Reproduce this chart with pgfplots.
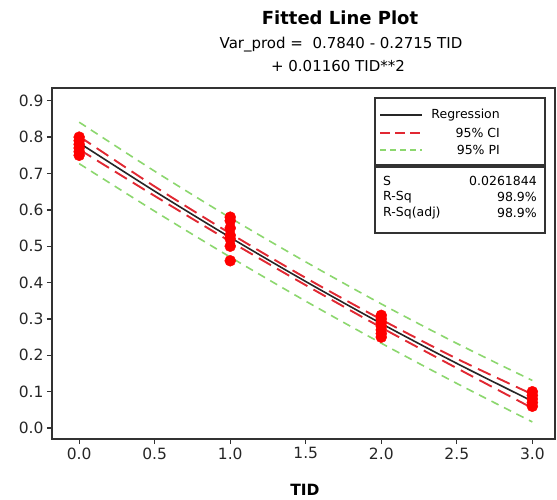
\documentclass[border=0pt]{standalone}
\usepackage{pgfplots}
\pgfplotsset{compat=1.18}
\usepackage{fontspec}
\setmainfont{DejaVu Sans}

\definecolor{ciRed}{RGB}{225,40,50}
\definecolor{piGreen}{RGB}{140,215,110}
\definecolor{axisGray}{RGB}{50,50,50}

\begin{document}
\begin{tikzpicture}
\begin{axis}[
    at={(0,0)}, anchor=south west,
    scale only axis,
    width=503pt, height=351pt,
    xmin=-0.18, xmax=3.15,
    ymin=-0.03, ymax=0.935,
    xtick={0,0.5,1,1.5,2,2.5,3},
    ytick={0,0.1,0.2,0.3,0.4,0.5,0.6,0.7,0.8,0.9},
    tick pos=left, tick align=outside,
    major tick length=5pt,
    axis line style={axisGray, line width=1.3pt},
    every tick/.style={axisGray, line width=1.3pt},
    /pgf/number format/assume math mode=true,
    /pgf/number format/.cd, fixed, fixed zerofill, precision=1, /pgfplots/.cd,
    tick label style={font=\fontsize{15.5}{18}\selectfont, text=black!85},
    clip=false,
]
% prediction interval
\addplot[piGreen, line width=1.6pt, dash pattern=on 8pt off 6pt, smooth] coordinates {
    (0,0.841)(0.5,0.7062)(1,0.5781)(1.5,0.4569)(2,0.3414)(2.5,0.2328)(3,0.1309)};
\addplot[piGreen, line width=1.6pt, dash pattern=on 8pt off 6pt, smooth] coordinates {
    (0,0.727)(0.5,0.5962)(1,0.4701)(1.5,0.3489)(2,0.2334)(2.5,0.1228)(3,0.0169)};
% confidence interval
\addplot[ciRed, line width=1.9pt, dash pattern=on 14pt off 7pt, smooth] coordinates {
    (0,0.802)(0.5,0.6642)(1,0.5351)(1.5,0.4129)(2,0.2984)(2.5,0.1908)(3,0.0929)};
\addplot[ciRed, line width=1.9pt, dash pattern=on 14pt off 7pt, smooth] coordinates {
    (0,0.766)(0.5,0.6382)(1,0.5131)(1.5,0.3929)(2,0.2764)(2.5,0.1648)(3,0.0549)};
% regression
\addplot[black!85, line width=1.6pt, smooth] coordinates {
    (0,0.784)(0.5,0.6512)(1,0.5241)(1.5,0.4029)(2,0.2874)(2.5,0.1778)(3,0.0739)};
% observations
\addplot[only marks, mark=*, mark size=5.5pt, red, mark options={fill=red, draw=red}] coordinates {
    (0,0.75)(0,0.76)(0,0.77)(0,0.78)(0,0.79)(0,0.80)
    (1,0.46)(1,0.50)(1,0.52)(1,0.53)(1,0.55)(1,0.57)(1,0.58)
    (2,0.25)(2,0.26)(2,0.27)(2,0.28)(2,0.29)(2,0.30)(2,0.31)
    (3,0.06)(3,0.07)(3,0.08)(3,0.09)(3,0.10)};
\end{axis}

% titles
\node[font=\fontsize{18}{20}\bfseries\selectfont] at (288pt,421pt) {Fitted Line Plot};
\node[font=\fontsize{15}{18}\selectfont] at (289pt,394pt) {Var\_prod =\ \ 0.7840 - 0.2715 TID};
\node[font=\fontsize{15}{18}\selectfont] at (286pt,373pt) {+ 0.01160 TID**2};
\node[font=\fontsize{15.5}{18}\bfseries\selectfont] at (253pt,-51pt) {TID};

% legend box
\draw[axisGray, line width=1.3pt, fill=white] (323pt,274pt) rectangle (493pt,341pt);
\draw[black!85, line width=1.4pt] (328pt,324pt) -- (370pt,324pt);
\draw[ciRed, line width=1.4pt, dash pattern=on 10pt off 5pt] (328pt,306pt) -- (370pt,306pt);
\draw[piGreen, line width=1.4pt, dash pattern=on 6pt off 4pt] (328pt,289pt) -- (370pt,289pt);
\begin{scope}[every node/.style={font=\fontsize{12.5}{14}\selectfont, anchor=east, inner sep=0pt}]
\node at (448pt,324pt) {Regression};
\node at (448pt,306pt) {95\% CI};
\node at (448pt,289pt) {95\% PI};
\end{scope}

% statistics box
\draw[axisGray, line width=1.3pt, fill=white] (323pt,206pt) rectangle (493pt,272pt);
\begin{scope}[every node/.style={font=\fontsize{12.5}{14}\selectfont, inner sep=0pt}]
\node[anchor=west] at (331pt,258pt) {S};
\node[anchor=west] at (331pt,242pt) {R-Sq};
\node[anchor=west] at (331pt,226pt) {R-Sq(adj)};
\node[anchor=east] at (485pt,258pt) {0.0261844};
\node[anchor=east] at (485pt,242pt) {98.9\%};
\node[anchor=east] at (485pt,226pt) {98.9\%};
\end{scope}

\pgfresetboundingbox
\path (-52pt,-60pt) rectangle (505pt,439pt);
\end{tikzpicture}
\end{document}
